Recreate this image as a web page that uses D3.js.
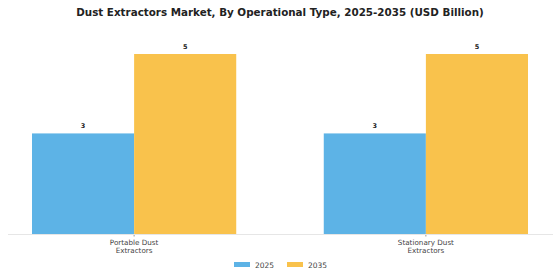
<!DOCTYPE html>
<html><head><meta charset="utf-8">
<script src="https://cdn.jsdelivr.net/npm/d3@7"></script>
<style>body{margin:0;background:#fff}svg{display:block}</style>
</head><body><svg id="c" width="560" height="280"></svg>
<script>
const categories = ["Portable Dust\nExtractors", "Stationary Dust\nExtractors"];
const seriesNames = ["2025", "2035"];
const values2025 = [2.8, 2.8];
const values2035 = [5.0, 5.0];
const colors = ["#5DB3E6", "#F9C24C"];
const title = "Dust Extractors Market, By Operational Type, 2025-2035 (USD Billion)";

const svg = d3.select("#c");
const W = 560, H = 280;
const base = 234.5;
const x0 = d3.scaleBand().domain(categories).range([32, 528]).paddingInner(0.3).paddingOuter(0);
const x1 = d3.scaleBand().domain(seriesNames).range([0, x0.bandwidth()]).padding(0);
const y = d3.scaleLinear().domain([0, 5.5]).range([base, base - 5.5 * 36.1]);

const t = svg.append("text").attr("x", 280).attr("y", 16).attr("text-anchor", "middle")
  .attr("font-family", "DejaVu Sans").attr("font-weight", "bold").attr("font-size", 10)
  .attr("fill", "#222").text(title);
const tw = t.node().getComputedTextLength();
t.attr("font-size", 10 * 408 / tw);

const data = categories.map((c, i) => ({c, vals: [values2025[i], values2035[i]]}));
const g = svg.selectAll("g.grp").data(data).join("g").attr("class", "grp")
  .attr("transform", d => `translate(${x0(d.c)},0)`);
g.selectAll("rect").data(d => d.vals.map((v, j) => ({v, s: seriesNames[j], j})))
  .join("rect").attr("x", d => x1(d.s)).attr("width", x1.bandwidth())
  .attr("y", d => y(d.v)).attr("height", d => base - y(d.v)).attr("fill", d => colors[d.j]);
g.selectAll("text.v").data(d => d.vals.map((v, j) => ({v, s: seriesNames[j]})))
  .join("text").attr("class", "v").attr("x", d => x1(d.s) + x1.bandwidth() / 2)
  .attr("y", d => y(d.v) - 5).attr("text-anchor", "middle")
  .attr("font-family", "DejaVu Sans").attr("font-weight", "bold").attr("font-size", 6.5)
  .attr("fill", "#222").text(d => d3.format(".0f")(d.v));

// axis
const ax = svg.append("g").attr("transform", `translate(0,${base})`)
  .call(d3.axisBottom(x0).tickSize(2).tickSizeOuter(0).tickFormat(""));
ax.select(".domain").remove();
ax.selectAll(".tick line").attr("stroke", "#999").attr("transform", `translate(${-x0.bandwidth()/2 + x1.bandwidth()},0)`);
svg.append("line").attr("x1", 8).attr("x2", 553).attr("y1", base).attr("y2", base)
  .attr("stroke", "#e6e6e6").attr("stroke-width", 1);
ax.selectAll(".tick").each(function(d) {
  const lines = d.split("\n");
  const tx = d3.select(this).append("text").attr("fill", "#444")
    .attr("font-family", "DejaVu Sans").attr("font-size", 7.2).attr("text-anchor", "middle")
    .attr("x", x1.bandwidth() - x0.bandwidth()/2);
  lines.forEach((l, i) => tx.append("tspan").attr("x", x1.bandwidth() - x0.bandwidth()/2).attr("y", 10 + i * 8.8).text(l));
});

// legend
const leg = svg.append("g");
const lx = [234, 287];
seriesNames.forEach((s, i) => {
  leg.append("rect").attr("x", lx[i]).attr("y", 262).attr("width", 16).attr("height", 5).attr("fill", colors[i]);
  leg.append("text").attr("x", lx[i] + 21).attr("y", 267.5).attr("font-family", "DejaVu Sans")
    .attr("font-size", 7.5).attr("fill", "#444").text(s);
});
</script></body></html>
